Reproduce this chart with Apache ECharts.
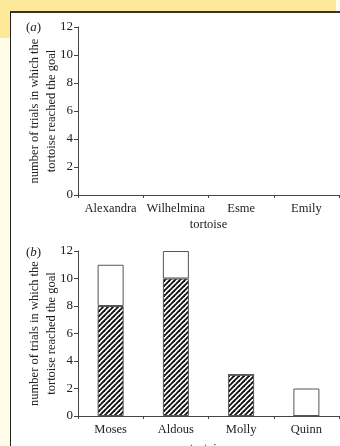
<!DOCTYPE html>
<html>
<head>
<meta charset="utf-8">
<script src="https://cdn.jsdelivr.net/npm/echarts@6/dist/echarts.min.js"></script>
<style>
html,body{margin:0;padding:0;width:340px;height:446px;overflow:hidden;background:#fffce9;}
#band{position:absolute;left:0;top:0;width:336px;height:11px;background:#fee99b;}
#lband{position:absolute;left:0;top:0;width:10px;height:38px;background:#fee99b;}
#frame{position:absolute;left:10px;top:11px;right:0;bottom:0;background:#fff;border-left:1.5px solid #222;border-top:2px solid #333;}
#chart{position:absolute;left:0;top:0;width:340px;height:446px;}
</style>
</head>
<body>
<div id="band"></div><div id="lband"></div><div id="frame"></div>
<div id="chart"></div>
<script>
// Data
const categoriesA = ['Alexandra', 'Wilhelmina', 'Esme', 'Emily'];
const categoriesB = ['Moses', 'Aldous', 'Molly', 'Quinn'];
const hatchedB = [8, 10, 3, 0];
const whiteB = [3, 2, 0, 2];
const yTicks = [0, 2, 4, 6, 8, 10, 12];
const yName = 'number of trials in which the\ntortoise reached the goal';
const xName = 'tortoise';

// hatch pattern
const s = 5;
const cv = document.createElement('canvas');
cv.width = s; cv.height = s;
const cx = cv.getContext('2d');
cx.fillStyle = '#fff'; cx.fillRect(0, 0, s, s);
cx.strokeStyle = '#111'; cx.lineWidth = 1.9;
[-s, 0, s].forEach(o => { cx.beginPath(); cx.moveTo(o - 1, s + 1); cx.lineTo(o + s + 1, -1); cx.stroke(); });

const font = 'Liberation Serif';
const txt = '#222';
const axisCol = '#444';

function yAxis(idx) {
  return {
    type: 'value', gridIndex: idx, min: yTicks[0], max: yTicks[yTicks.length - 1], interval: 2,
    axisLine: { show: true, lineStyle: { color: axisCol, width: 1 } },
    axisTick: { show: true, length: 4, lineStyle: { color: axisCol } },
    axisLabel: { fontFamily: font, fontSize: 13, color: txt, margin: 5 },
    splitLine: { show: false },
    name: yName, nameLocation: 'middle', nameRotate: 90, nameGap: 18, nameMoveOverlap: false,
    nameTextStyle: { fontFamily: font, fontSize: 12.5, color: txt, lineHeight: 17 }
  };
}
function xAxis(idx, cats, gap) {
  return {
    type: 'category', gridIndex: idx, data: cats,
    axisLine: { show: true, lineStyle: { color: axisCol, width: 1 } },
    axisTick: { show: true, length: 3, lineStyle: { color: axisCol } },
    axisLabel: { fontFamily: font, fontSize: 12.5, color: txt, margin: 7, interval: 0 },
    name: xName, nameLocation: 'middle', nameGap: gap, nameMoveOverlap: false,
    nameTextStyle: { fontFamily: font, fontSize: 12.5, color: txt }
  };
}

const chart = echarts.init(document.getElementById('chart'), null, { renderer: 'canvas' });
chart.setOption({
  animation: false,
  grid: [
    { left: 78, right: 1, top: 27, height: 168, containLabel: false, outerBoundsMode: 'none' },
    { left: 78, right: 1, top: 251, height: 165, containLabel: false, outerBoundsMode: 'none' }
  ],
  xAxis: [xAxis(0, categoriesA, 23), xAxis(1, categoriesB, 26)],
  yAxis: [yAxis(0), yAxis(1)],
  graphic: [
    { type: 'text', left: 26, top: 21, style: { text: '{n|(}{i|a}{n|)}', rich: { n: { fontFamily: font, fontSize: 13, fill: txt }, i: { fontFamily: font, fontSize: 13, fontStyle: 'italic', fill: txt } } } },
    { type: 'text', left: 26, top: 246, style: { text: '{n|(}{i|b}{n|)}', rich: { n: { fontFamily: font, fontSize: 13, fill: txt }, i: { fontFamily: font, fontSize: 13, fontStyle: 'italic', fill: txt } } } }
  ],
  series: [
    { type: 'bar', xAxisIndex: 1, yAxisIndex: 1, stack: 'b', data: hatchedB, barWidth: 26,
      itemStyle: { color: { image: cv, repeat: 'repeat' }, borderColor: '#555', borderWidth: 1 } },
    { type: 'bar', xAxisIndex: 1, yAxisIndex: 1, stack: 'b', data: whiteB, barWidth: 26,
      itemStyle: { color: '#fff', borderColor: '#555', borderWidth: 1 } }
  ]
});
</script>
</body>
</html>
